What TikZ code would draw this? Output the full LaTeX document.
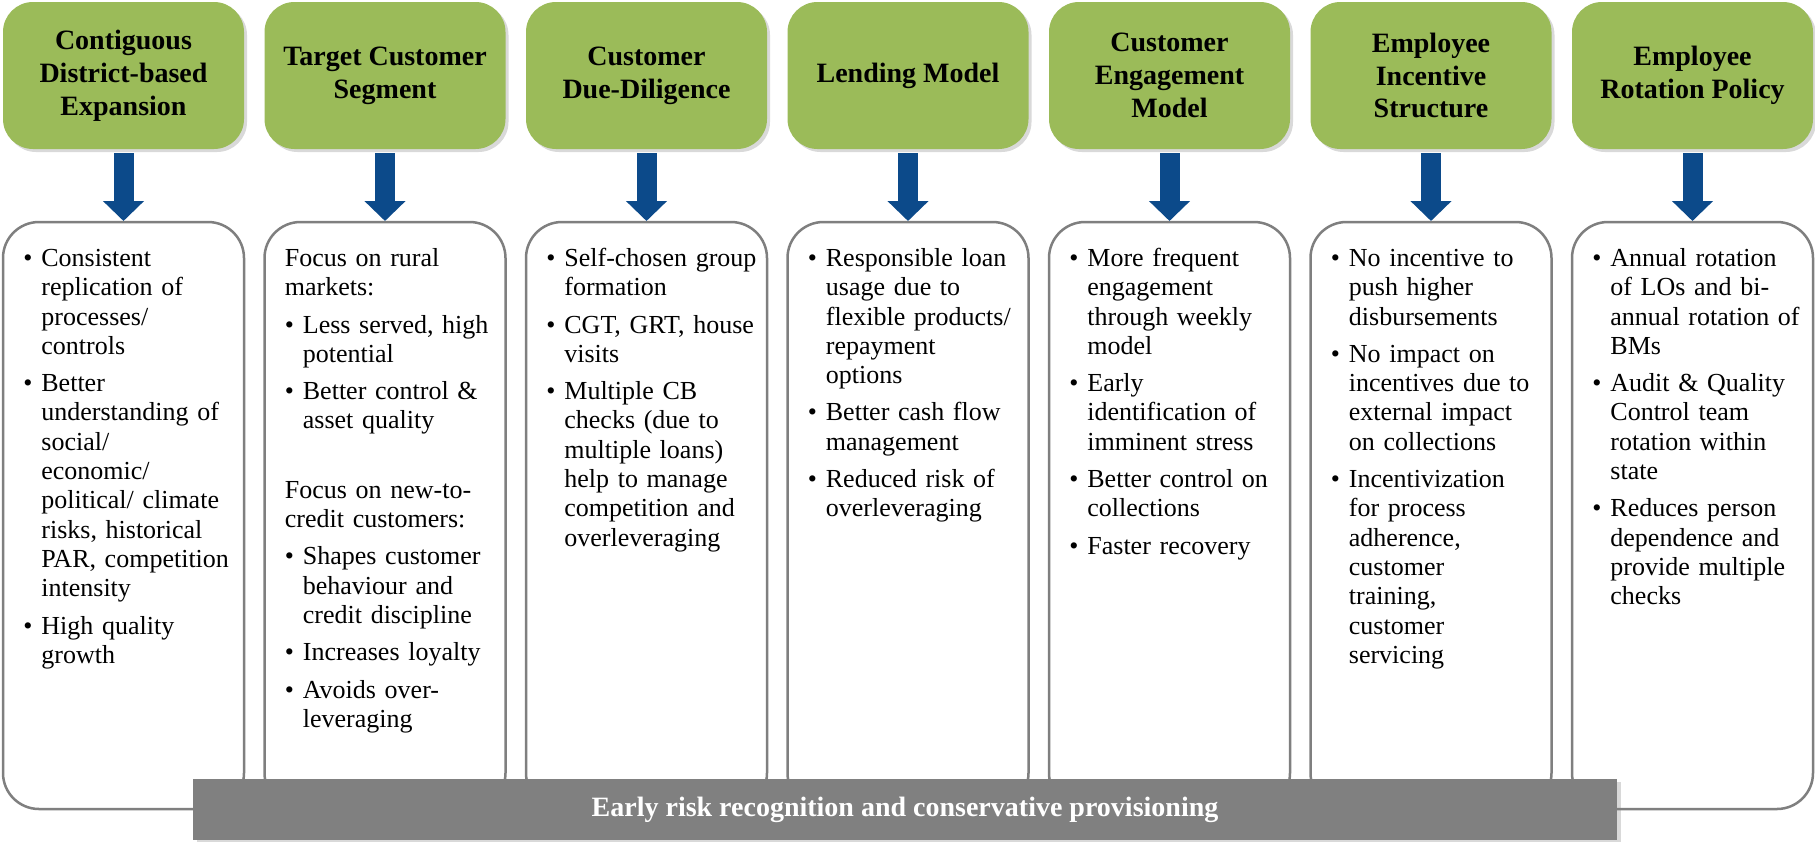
\documentclass[tikz,border=0pt]{standalone}
\usepackage{fontspec}
\setmainfont{Liberation Serif}
\usetikzlibrary{arrows.meta, positioning, shadows}

\definecolor{headgreen}{RGB}{155,187,89}
\definecolor{flowblue}{RGB}{12,74,138}
\definecolor{edgegray}{RGB}{127,127,127}
\definecolor{bargray}{RGB}{128,128,128}

\newcommand{\bit}[1]{\hangindent=9pt\hangafter=1\noindent\makebox[9pt][l]{\textbullet}{\let\\\newline #1}\par\vspace{4pt}}

\begin{document}
\begin{tikzpicture}[x=0.5pt, y=-0.5pt, >={Triangle[width=20pt, length=10pt]},
        head/.style={rectangle, rounded corners=15pt, fill=headgreen, minimum width=120.5pt, minimum height=73.5pt, align=center,
            font=\fontsize{14}{16.4}\selectfont\bfseries, drop shadow={shadow xshift=1.5pt, shadow yshift=-1.5pt, opacity=0.3}},
        body/.style={rectangle, rounded corners=18pt, draw=edgegray, line width=1.25pt, fill=white, outer sep=0pt,
            minimum width=120.5pt, minimum height=293.5pt},
        txt/.style={inner sep=0pt, text width=110pt, align=left, font=\fontsize{13}{14.65}\selectfont,
            execute at begin node=\rule{0pt}{10.25pt}},
        flow/.style={->, flowblue, line width=10pt, shorten <=2pt, shorten >=0.5pt},
        bar/.style={rectangle, fill=bargray, minimum width=712pt, minimum height=30.5pt, text=white,
            font=\fontsize{14}{16}\selectfont\bfseries, drop shadow={shadow xshift=2pt, shadow yshift=-1.5pt, opacity=0.3}}]
        \useasboundingbox (0,0) rectangle (1815,841);

        % Nodes
        \node[head] (h1) at (123.5, 75.5) {Contiguous\\District-based\\Expansion};
        \node[head] (h2) at (385, 75.5) {Target Customer\\Segment};
        \node[head] (h3) at (646.5, 75.5) {Customer\\Due-Diligence};
        \node[head] (h4) at (908, 75.5) {Lending Model};
        \node[head] (h5) at (1169.5, 75.5) {Customer\\Engagement\\Model};
        \node[head] (h6) at (1431, 75.5) {Employee\\Incentive\\Structure};
        \node[head] (h7) at (1692.5, 75.5) {Employee\\Rotation Policy};

        \node[body] (b1) at (123.5, 515.5) {};
        \node[body] (b2) at (385, 515.5) {};
        \node[body] (b3) at (646.5, 515.5) {};
        \node[body] (b4) at (908, 515.5) {};
        \node[body] (b5) at (1169.5, 515.5) {};
        \node[body] (b6) at (1431, 515.5) {};
        \node[body] (b7) at (1692.5, 515.5) {};

        \node[txt, below right=11.75pt and 10pt of b1.north west] (t1) {%
            \bit{Consistent\\replication of\\processes/\\controls}
            \bit{Better\\understanding of\\social/\\economic/\\political/ climate\\risks, historical\\PAR, competition\\intensity}
            \bit{High quality\\growth}};
        \node[txt, below right=11.75pt and 10pt of b2.north west] (t2) {%
            Focus on rural\\markets:\par\vspace{4pt}
            \bit{Less served, high\\potential}
            \bit{Better control \&\\asset quality}
            \vspace{16pt}
            Focus on new-to-\\credit customers:\par\vspace{4pt}
            \bit{Shapes customer\\behaviour and\\credit discipline}
            \bit{Increases loyalty}
            \bit{Avoids over-\\leveraging}};
        \node[txt, below right=11.75pt and 10pt of b3.north west] (t3) {%
            \bit{Self-chosen group\\formation}
            \bit{CGT, GRT, house\\visits}
            \bit{Multiple CB\\checks (due to\\multiple loans)\\help to manage\\competition and\\overleveraging}};
        \node[txt, below right=11.75pt and 10pt of b4.north west] (t4) {%
            \bit{Responsible loan\\usage due to\\flexible products/\\repayment\\options}
            \bit{Better cash flow\\management}
            \bit{Reduced risk of\\overleveraging}};
        \node[txt, below right=11.75pt and 10pt of b5.north west] (t5) {%
            \bit{More frequent\\engagement\\through weekly\\model}
            \bit{Early\\identification of\\imminent stress}
            \bit{Better control on\\collections}
            \bit{Faster recovery}};
        \node[txt, below right=11.75pt and 10pt of b6.north west] (t6) {%
            \bit{No incentive to\\push higher\\disbursements}
            \bit{No impact on\\incentives due to\\external impact\\on collections}
            \bit{Incentivization\\for process\\adherence,\\customer\\training,\\customer\\servicing}};
        \node[txt, below right=11.75pt and 10pt of b7.north west] (t7) {%
            \bit{Annual rotation\\of LOs and bi-\\annual rotation of\\BMs}
            \bit{Audit \& Quality\\Control team\\rotation within\\state}
            \bit{Reduces person\\dependence and\\provide multiple\\checks}};

        \node[bar] (bar) at (905, 809.5) {Early risk recognition and conservative provisioning};

        % Directed edges
        \draw[flow] (h1) -- (b1);
        \draw[flow] (h2) -- (b2);
        \draw[flow] (h3) -- (b3);
        \draw[flow] (h4) -- (b4);
        \draw[flow] (h5) -- (b5);
        \draw[flow] (h6) -- (b6);
        \draw[flow] (h7) -- (b7);
    \end{tikzpicture}
\end{document}
